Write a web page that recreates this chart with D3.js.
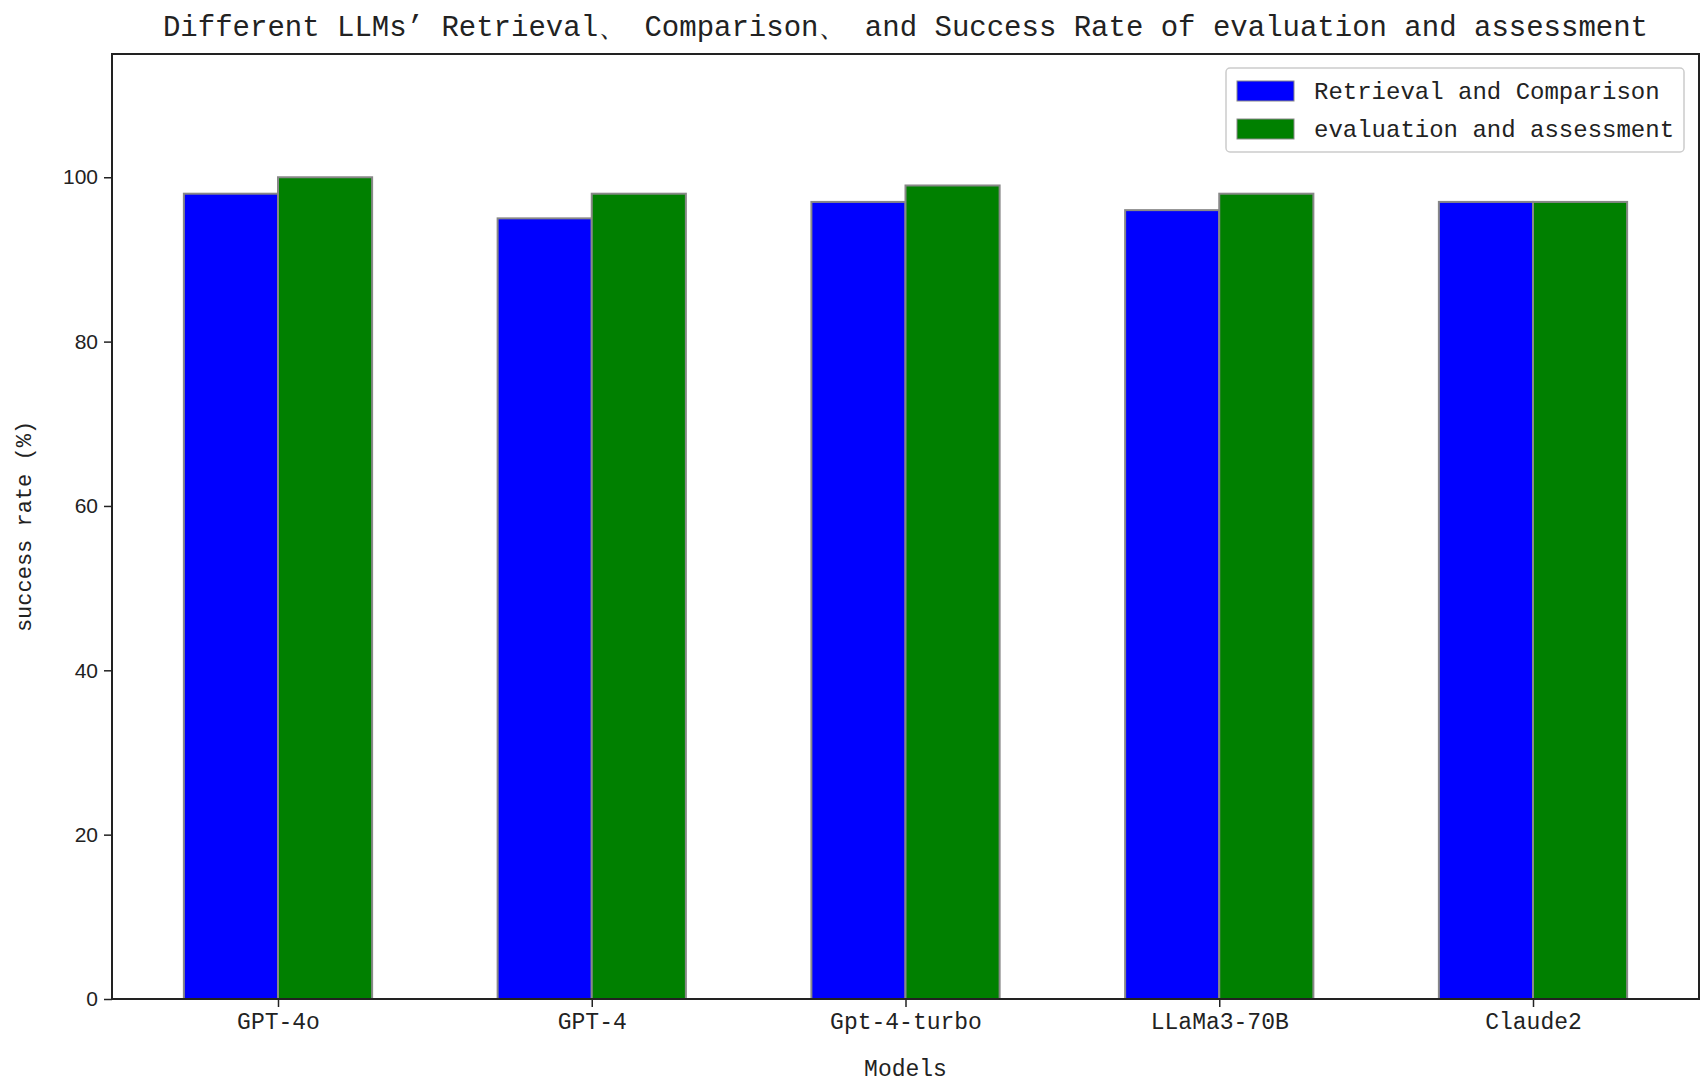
<!DOCTYPE html>
<html><head><meta charset="utf-8">
<script src="https://cdn.jsdelivr.net/npm/d3@7"></script>
<style>body{margin:0;background:#fff}</style></head>
<body><svg id="c" width="1708" height="1086"></svg>
<script>
const categories=["GPT-4o","GPT-4","Gpt-4-turbo","LLaMa3-70B","Claude2"];
const retrieval=[98,95,97,96,97];
const evaluation=[100,98,99,98,97];
const yTicks=[0,20,40,60,80,100];
const seriesNames=["Retrieval and Comparison","evaluation and assessment"];
const colors=["#0000ff","#008000"];
const mono="'Liberation Mono','DejaVu Sans Mono',monospace";
const L=112,R=1699,T=54,B=999;
const svg=d3.select("#c");
const step=(R-L)/(categories.length-1+166*2/313.75);
const x=d3.scaleLinear().domain([-166/313.75,categories.length-1+166/313.75]).range([L,R]);
const y=d3.scaleLinear().domain([0,115]).range([B,T]);
const bw=x(0.3)-x(0);
[retrieval,evaluation].forEach((s,si)=>{
 svg.append("g").selectAll("rect").data(s).join("rect")
  .attr("x",(d,i)=>x(i)+(si-1)*bw).attr("width",bw)
  .attr("y",d=>y(d)).attr("height",d=>B-y(d))
  .attr("fill",colors[si]).attr("stroke","#888").attr("stroke-width",2);
});
const ya=svg.append("g").attr("transform",`translate(${L},0)`).call(d3.axisLeft(y).tickValues(yTicks).tickSize(8).tickPadding(6));
ya.selectAll("text").attr("font-family","'Liberation Sans',Arial").attr("font-size",21).attr("fill","#222");
const xa=svg.append("g").attr("transform",`translate(0,${B})`).call(d3.axisBottom(x).tickValues(d3.range(categories.length)).tickFormat(i=>categories[i]).tickSize(8).tickPadding(6));
xa.selectAll("text").attr("font-family",mono).attr("font-size",23).attr("fill","#222");
[ya,xa].forEach(a=>{a.select(".domain").remove();a.selectAll("line").attr("stroke","#222").attr("stroke-width",1.5);});
svg.append("rect").attr("x",L).attr("y",T).attr("width",R-L).attr("height",B-T).attr("fill","none").attr("stroke","#222").attr("stroke-width",2);
svg.append("text").attr("x",(L+R)/2).attr("y",36).attr("text-anchor","middle").attr("font-family",mono).attr("font-size",29).attr("fill","#222")
 .text("Different LLMs’ Retrieval、 Comparison、 and Success Rate of evaluation and assessment");
svg.append("text").attr("x",(L+R)/2).attr("y",1076).attr("text-anchor","middle").attr("font-family",mono).attr("font-size",23).attr("fill","#222").text("Models");
svg.append("text").attr("transform",`translate(31,${(T+B)/2}) rotate(-90)`).attr("text-anchor","middle").attr("font-family",mono).attr("font-size",22).attr("fill","#222").text("success rate (%)");
const lg=svg.append("g");
lg.append("rect").attr("x",1226).attr("y",68).attr("width",458).attr("height",84).attr("rx",4).attr("fill","#fff").attr("stroke","#ccc").attr("stroke-width",1.5);
seriesNames.forEach((n,i)=>{
 lg.append("rect").attr("x",1237).attr("y",81+i*38).attr("width",57).attr("height",20).attr("fill",colors[i]).attr("stroke","#888");
 lg.append("text").attr("x",1314).attr("y",99+i*38).attr("font-family",mono).attr("font-size",24).attr("fill","#222").text(n);
});
</script></body></html>
